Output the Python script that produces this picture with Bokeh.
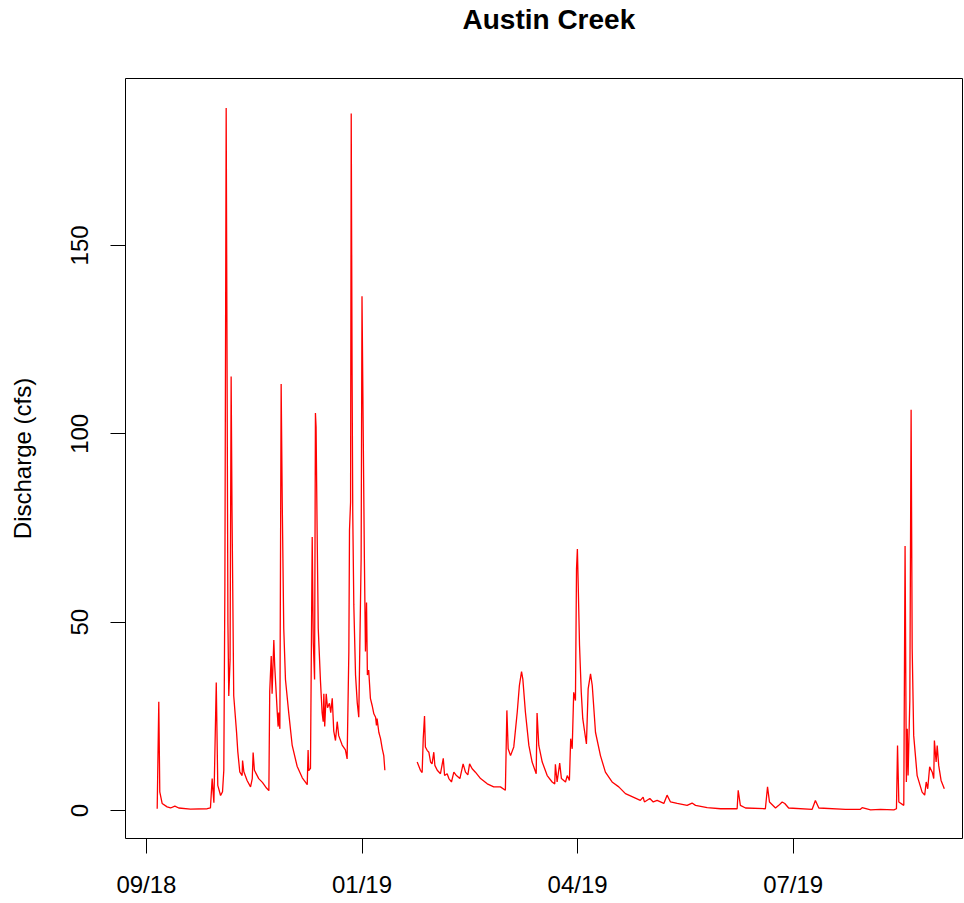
import numpy as np
import pandas as pd
from bokeh.plotting import figure
from bokeh.models import Range1d, FixedTicker, DatetimeTickFormatter, Title
from bokeh.embed import file_html
from bokeh.resources import INLINE

# Days since 2018-10-01 and discharge (cfs)
seg1_day = [0.0, 0.74, 1.2, 2.3, 4.6, 6.2, 8.2, 10.0, 15.4, 23.2, 24.7, 25.5, 26.3, 27.4, 28.1,
            29.4, 30.3, 30.9, 31.4, 32.0, 32.4, 32.8, 33.2, 33.8, 34.3, 34.7, 35.5, 36.8, 37.4,
            38.3, 39.4, 39.6, 40.2, 41.7, 43.3, 44.1, 44.5, 45.1, 47.1, 48.8, 50.7, 51.8, 52.2,
            52.9, 53.3, 54.1, 54.5, 55.7, 56.1, 56.4, 56.9, 57.5, 58.0, 58.7, 59.5, 61.0, 62.6,
            64.9, 67.3, 69.6, 70.0, 70.3, 71.1, 71.9, 72.4, 73.0, 73.4, 73.7, 74.2, 74.7, 75.7,
            76.5, 77.0, 77.3, 77.7, 78.4, 79.0, 79.9, 80.5, 81.2, 81.9, 82.7, 83.5, 84.2, 85.8,
            87.3, 88.1, 88.9, 89.2, 89.7, 90.0, 90.4, 90.7, 91.2, 92.0, 92.8, 93.5, 94.6, 95.0,
            95.5, 96.1, 96.6, 97.1, 97.5, 98.1, 98.9, 99.7, 100.5, 101.3, 101.7, 102.0, 102.8,
            103.6, 104.4, 105.1, 105.6]
seg1_cfs = [0.5, 28.9, 5.0, 1.9, 1.0, 0.7, 1.2, 0.7, 0.4, 0.5, 0.7, 8.5, 2.1, 34.0, 6.7,
            4.0, 5.0, 10.7, 60.0, 186.5, 120.0, 50.0, 30.4, 40.0, 115.2, 80.0, 30.5, 20.9, 15.6,
            10.3, 9.3, 13.3, 10.3, 8.0, 6.3, 8.5, 15.4, 10.7, 8.5, 7.5, 6.0, 5.3, 31.7,
            41.0, 31.0, 45.3, 38.5, 26.0, 22.3, 26.0, 21.7, 113.2, 81.9, 48.4, 34.8, 26.0, 17.4,
            11.8, 8.7, 6.9, 16.1, 10.6, 11.2, 72.6, 44.7, 34.8, 105.5, 101.8, 73.2, 48.4, 34.8,
            26.0, 23.6, 31.0, 22.3, 31.0, 27.3, 28.5, 26.0, 29.8, 21.1, 18.6, 23.6, 19.9, 17.4,
            16.1, 13.7, 42.2, 74.5, 81.9, 185.0, 116.7, 79.4, 54.6, 36.0, 28.6, 24.8, 67.0, 136.5,
            104.3, 67.0, 42.2, 55.2, 36.0, 37.3, 29.8, 27.9, 25.7, 24.8, 22.6, 24.4, 20.8,
            19.1, 16.4, 14.6, 10.7]

seg2_day = [120.6, 122.1, 122.9, 123.4, 124.0, 124.4, 125.2, 126.0, 126.8, 127.5, 128.3, 128.8,
            129.9, 131.4, 132.7, 133.3, 134.5, 135.3, 136.5, 137.6, 138.8, 140.4, 141.9, 143.0,
            144.1, 144.9, 146.1, 147.6, 150.0, 153.1, 156.1, 159.2, 161.5, 162.2, 162.8, 163.9,
            165.4, 167.0, 168.0, 169.0, 169.6, 170.8, 172.4, 173.9, 175.8, 176.2, 177.0, 178.6,
            180.9, 183.2, 184.4, 184.7, 185.5, 186.7, 187.5, 189.4, 190.2, 191.2, 191.8, 192.5,
            193.2, 194.0, 194.5, 194.9, 195.3, 195.9, 196.7, 197.4, 198.3, 199.1, 199.9, 201.0,
            201.8, 203.3, 205.6, 207.9, 211.0, 214.1, 217.2, 219.5, 224.1, 225.4, 226.0, 228.5,
            230.1, 231.9, 235.0, 236.5, 238.1, 241.2, 245.8, 248.1, 249.7, 255.1, 261.3, 269.0,
            269.5, 270.5, 272.9, 282.1, 283.1, 284.0, 286.8, 288.3, 289.9, 291.1, 292.9, 303.8,
            305.3, 306.9, 319.3, 326.2, 327.0, 330.9, 335.5, 341.7, 342.9, 343.4, 344.0, 346.3,
            346.9, 347.5, 347.9, 348.3, 349.1, 349.7, 350.2, 350.9, 352.5, 354.8, 356.0, 356.7,
            357.4, 358.3, 359.5, 360.2, 360.5, 361.3, 361.8, 362.5, 363.6, 365.1]
seg2_cfs = [12.9, 10.7, 10.1, 19.1, 25.1, 16.9, 16.0, 15.5, 12.9, 12.4, 15.5, 12.0,
            10.7, 9.8, 13.9, 9.3, 9.8, 8.5, 7.6, 10.2, 9.3, 8.5, 12.4, 10.2,
            9.5, 12.4, 11.1, 10.2, 8.5, 7.1, 6.3, 6.3, 5.4, 26.6, 16.4, 14.6,
            16.9, 26.1, 33.2, 36.9, 34.9, 26.1, 17.3, 12.9, 9.8, 25.9, 17.3, 12.9,
            9.3, 7.6, 7.1, 12.3, 7.6, 12.6, 8.5, 7.6, 9.3, 8.0, 19.1, 16.4,
            31.4, 29.2, 64.1, 69.4, 59.7, 43.8, 31.4, 24.4, 20.8, 17.7, 32.3, 36.3,
            33.2, 20.8, 14.6, 10.2, 7.6, 6.3, 4.5, 3.9, 2.7, 3.6, 2.3, 3.2,
            2.3, 2.7, 1.9, 4.1, 2.3, 1.9, 1.4, 2.0, 1.4, 0.8, 0.5, 0.5,
            5.4, 1.4, 0.7, 0.5, 6.3, 2.3, 0.7, 1.4, 2.3, 1.9, 0.7, 0.35,
            2.7, 0.7, 0.35, 0.35, 0.8, 0.2, 0.35, 0.2, 0.5, 17.3, 2.3, 1.4,
            70.2, 7.6, 21.7, 9.3, 29.2, 106.4, 42.9, 19.9, 9.3, 4.9, 4.1, 7.6,
            5.8, 11.6, 10.2, 8.5, 18.6, 12.9, 17.3, 12.0, 8.0, 5.8]

tick_dates = ["2018-09-26", "2019-01-04", "2019-04-14", "2019-07-23"]
y_ticks = [0, 50, 100, 150]
title_text = "Austin Creek"

origin = pd.Timestamp("2018-10-01")


def to_dt(days):
    return origin + pd.to_timedelta(np.asarray(days, dtype=float), unit="D")


x_start = (origin + pd.Timedelta(days=-14.7)).to_pydatetime()
x_end = (origin + pd.Timedelta(days=374.0)).to_pydatetime()

p = figure(width=963, height=900, output_backend="svg", toolbar_location=None,
           title=None, x_axis_type="datetime",
           x_range=Range1d(start=x_start, end=x_end),
           y_range=Range1d(start=-7.4, end=194.3),
           min_border_left=125, min_border_right=0, min_border_top=78, min_border_bottom=60)

# spacer panel closest to the frame, then the title above it
p.add_layout(Title(text=" ", text_font_size="2px", standoff=40), "above")
p.add_layout(Title(text=title_text, text_font="Liberation Sans", text_font_style="bold",
                   text_font_size="28px", text_color="black", align="left",
                   offset=337, standoff=0), "above")

p.line(to_dt(seg1_day), seg1_cfs, line_color="#FF0000", line_width=1.3)
p.line(to_dt(seg2_day), seg2_cfs, line_color="#FF0000", line_width=1.3)

p.xgrid.visible = False
p.ygrid.visible = False
p.outline_line_color = "black"
p.outline_line_width = 1
p.background_fill_color = "white"
p.border_fill_color = "white"

tick_ms = [pd.Timestamp(d).value / 1e6 for d in tick_dates]
p.xaxis.ticker = FixedTicker(ticks=tick_ms)
fmt = "%m/%y"
p.xaxis.formatter = DatetimeTickFormatter(
    microseconds=fmt, milliseconds=fmt, seconds=fmt, minsec=fmt, minutes=fmt,
    hourmin=fmt, hours=fmt, days=fmt, months=fmt, years=fmt)
p.yaxis.ticker = FixedTicker(ticks=y_ticks)
p.yaxis.axis_label = "Discharge (cfs)"

for ax in (p.xaxis[0], p.yaxis[0]):
    ax.axis_line_color = None
    ax.major_tick_line_color = "black"
    ax.major_tick_out = 15
    ax.major_tick_in = 0
    ax.minor_tick_line_color = None
    ax.major_label_text_font = "Liberation Sans"
    ax.major_label_text_font_size = "24px"
    ax.major_label_text_color = "black"
    ax.axis_label_text_font = "Liberation Sans"
    ax.axis_label_text_font_size = "24px"
    ax.axis_label_text_font_style = "normal"
    ax.axis_label_text_color = "black"

p.xaxis.major_label_standoff = 17
p.yaxis.major_label_standoff = 22
p.yaxis.major_label_orientation = "vertical"
p.yaxis.axis_label_standoff = 33

open("out.html", "w").write(file_html(p, INLINE))
